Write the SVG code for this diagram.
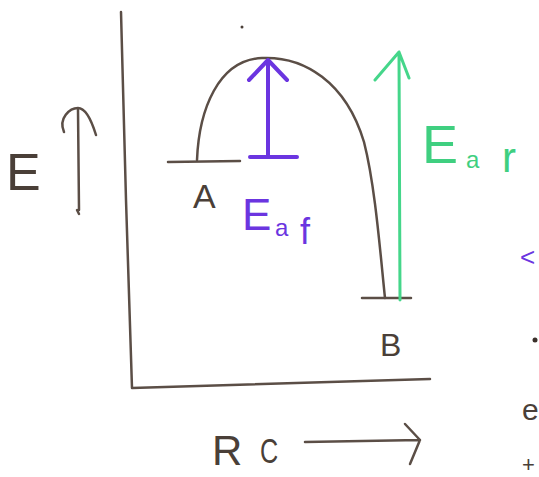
<svg xmlns="http://www.w3.org/2000/svg" width="539" height="477" viewBox="0 0 539 477">
<defs>
<style>
.ink{fill:none;stroke:#5b4e46;stroke-width:2.5;stroke-linecap:round;stroke-linejoin:round}
.pur{fill:none;stroke:#6b35e0;stroke-width:4;stroke-linecap:round;stroke-linejoin:round}
.grn{fill:none;stroke:#45d68a;stroke-width:3;stroke-linecap:round;stroke-linejoin:round}
.tk{font-family:"Liberation Sans",Arial,sans-serif;fill:#4a3f38}
.tp{font-family:"Liberation Sans",Arial,sans-serif;fill:#6b35e0}
.tg{font-family:"Liberation Sans",Arial,sans-serif;fill:#3fcf80}
</style>
</defs>
<rect width="539" height="477" fill="#ffffff"/>
<g id="axes">
<path class="ink" d="M121 12 L126 200 L132 388 L430 379"/>
<circle cx="242" cy="27" r="1.5" fill="#4a3f38"/>
</g>
<g id="energy-label">
<text class="tk" x="6" y="190" font-size="52">E</text>
<path class="ink" d="M78 110 L79 210 M77 210 L79 214 M64 132 C58 118 70 108 78 108 C86 108 92 122 96 135"/>
</g>
<g id="curve">
<path class="ink" d="M197 160 C199 110 218 60 262 58 C304 56 346 82 364 142 C375 185 380 250 385 298"/>
</g>
<g id="state-A">
<path class="ink" d="M168 162 L240 161"/>
<text class="tk" x="193" y="208" font-size="34">A</text>
</g>
<g id="state-B">
<path class="ink" d="M362 298 L411 298"/>
<text class="tk" x="380" y="356" font-size="32">B</text>
</g>
<g id="connectors">
<path class="pur" d="M268 157 L268 60 M249 80 L268 60 L287 80 M250 157 L297 157"/>
<path class="grn" d="M400 300 L399 52 M375 80 L399 52 L409 78"/>
<path class="ink" d="M305 442 L420 440 M405 424 L420 440 L410 464"/>
</g>
<g id="label-Eaf">
<text class="tp" x="242" y="230" font-size="44">E</text>
<text class="tp" x="275" y="236" font-size="24">a</text>
<text class="tp" x="300" y="244" font-size="36">f</text>
</g>
<g id="label-Ear">
<text class="tg" x="422" y="163" font-size="54">E</text>
<text class="tg" x="466" y="168" font-size="24">a</text>
<text class="tg" x="502" y="172" font-size="42">r</text>
</g>
<g id="label-RC">
<text class="tk" x="212" y="465" font-size="42">R</text>
<text class="tk" transform="translate(260 463) scale(0.7 1)" font-size="36">C</text>
</g>
<g id="edge-fragments">
<text class="tp" x="520" y="266" font-size="26">&lt;</text>
<circle cx="535" cy="340" r="2.5" fill="#3a302a"/>
<text class="tk" x="522" y="420" font-size="30">e</text>
<text class="tk" x="522" y="472" font-size="22">+</text>
</g>
</svg>
